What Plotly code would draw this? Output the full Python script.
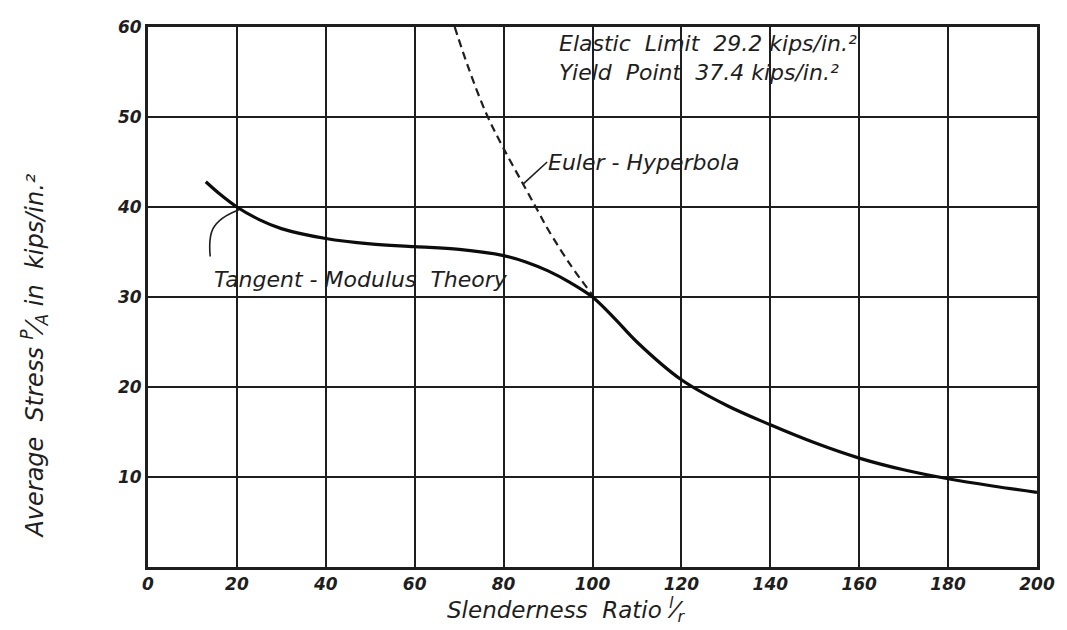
import plotly.graph_objects as go

# Tangent-modulus column curve (slenderness ratio l/r vs average stress, kips/in.^2)
tangent_x = [13, 16, 20, 25, 30, 40, 50, 60, 70, 80, 85, 90, 95, 100,
             105, 110, 120, 130, 140, 150, 160, 170, 180, 190, 200]
tangent_y = [42.8, 41.5, 40.0, 38.6, 37.6, 36.5, 35.9, 35.6, 35.3, 34.6, 33.9, 32.9, 31.6, 30.0,
             27.6, 25.0, 20.8, 18.0, 15.8, 13.8, 12.1, 10.8, 9.8, 9.0, 8.3]

# Euler hyperbola (dashed), drawn down to where it meets the tangent-modulus curve
euler_x = [69, 72, 76, 80, 85, 88, 90, 95, 100]
euler_y = [60, 55.6, 50.5, 46.5, 42, 39.3, 37.5, 33.6, 30.2]

x_ticks = [0, 20, 40, 60, 80, 100, 120, 140, 160, 180, 200]
y_ticks = [10, 20, 30, 40, 50, 60]

INK = "#1e1e1e"
FONT = "DejaVu Sans"

fig = go.Figure()
fig.add_trace(go.Scatter(x=euler_x, y=euler_y, mode="lines", line_shape="spline",
                         line=dict(color=INK, width=2.2, dash="8px,5px"),
                         hoverinfo="skip", showlegend=False))
fig.add_trace(go.Scatter(x=tangent_x, y=tangent_y, mode="lines", line_shape="spline",
                         line=dict(color="#0c0c0c", width=3.2),
                         hoverinfo="skip", showlegend=False))

tick_font = dict(family=FONT, size=17, color=INK, style="italic", weight="bold")
lbl_font = dict(family=FONT, size=22, color=INK, style="italic")

fig.update_xaxes(range=[0, 200], tickmode="array", tickvals=x_ticks,
                 ticktext=[str(v) for v in x_ticks],
                 showgrid=True, gridcolor=INK, gridwidth=2.3,
                 showline=True, linecolor=INK, linewidth=3, mirror=True,
                 zeroline=False, ticks="", ticklen=0, tickfont=tick_font)
fig.update_yaxes(range=[0, 60], tickmode="array", tickvals=y_ticks,
                 ticktext=[str(v) for v in y_ticks],
                 showgrid=True, gridcolor=INK, gridwidth=2.3,
                 showline=True, linecolor=INK, linewidth=3, mirror=True,
                 zeroline=False, ticks="", ticklen=0, tickfont=tick_font)

annotations = [
    dict(x=92, y=56.6, xref="x", yref="y", xanchor="left", yanchor="middle",
         text="Elastic  Limit  29.2 kips/in.²<br>Yield  Point  37.4 kips/in.²",
         align="left", showarrow=False,
         font=dict(family=FONT, size=22, color=INK, style="italic")),
    dict(x=89.5, y=44.9, xref="x", yref="y", xanchor="left", yanchor="middle",
         text="Euler - Hyperbola", showarrow=False, font=lbl_font),
    dict(x=14.3, y=31.9, xref="x", yref="y", xanchor="left", yanchor="middle",
         text="Tangent - Modulus  Theory", showarrow=False, font=lbl_font),
    # axis titles
    dict(x=-0.128, y=0.39, xref="paper", yref="paper", xanchor="center", yanchor="middle",
         text="Average  Stress <sup>P</sup>⁄<sub>A</sub> in  kips/in.²", textangle=-90,
         showarrow=False, font=dict(family=FONT, size=24, color=INK, style="italic")),
    dict(x=0.47, y=-0.078, xref="paper", yref="paper", xanchor="center", yanchor="middle",
         text="Slenderness  Ratio <sup>l</sup>⁄<sub>r</sub>",
         showarrow=False, font=dict(family=FONT, size=23, color=INK, style="italic")),
]

# leader lines from the labels to the curves
shapes = [
    dict(type="line", xref="x", yref="y", x0=89.8, y0=45.0, x1=84.5, y1=42.6,
         line=dict(color=INK, width=1.6)),
    dict(type="path", xref="x", yref="y",
         path="M 14,34.5 C 13.5,37 14,38.5 20.5,39.7",
         line=dict(color=INK, width=1.6)),
]

fig.update_layout(width=1067, height=630,
                  margin=dict(l=148, r=24, t=27, b=63),
                  paper_bgcolor="white", plot_bgcolor="white",
                  annotations=annotations, shapes=shapes, showlegend=False)

fig.write_html("out.html", config={"displayModeBar": False})
